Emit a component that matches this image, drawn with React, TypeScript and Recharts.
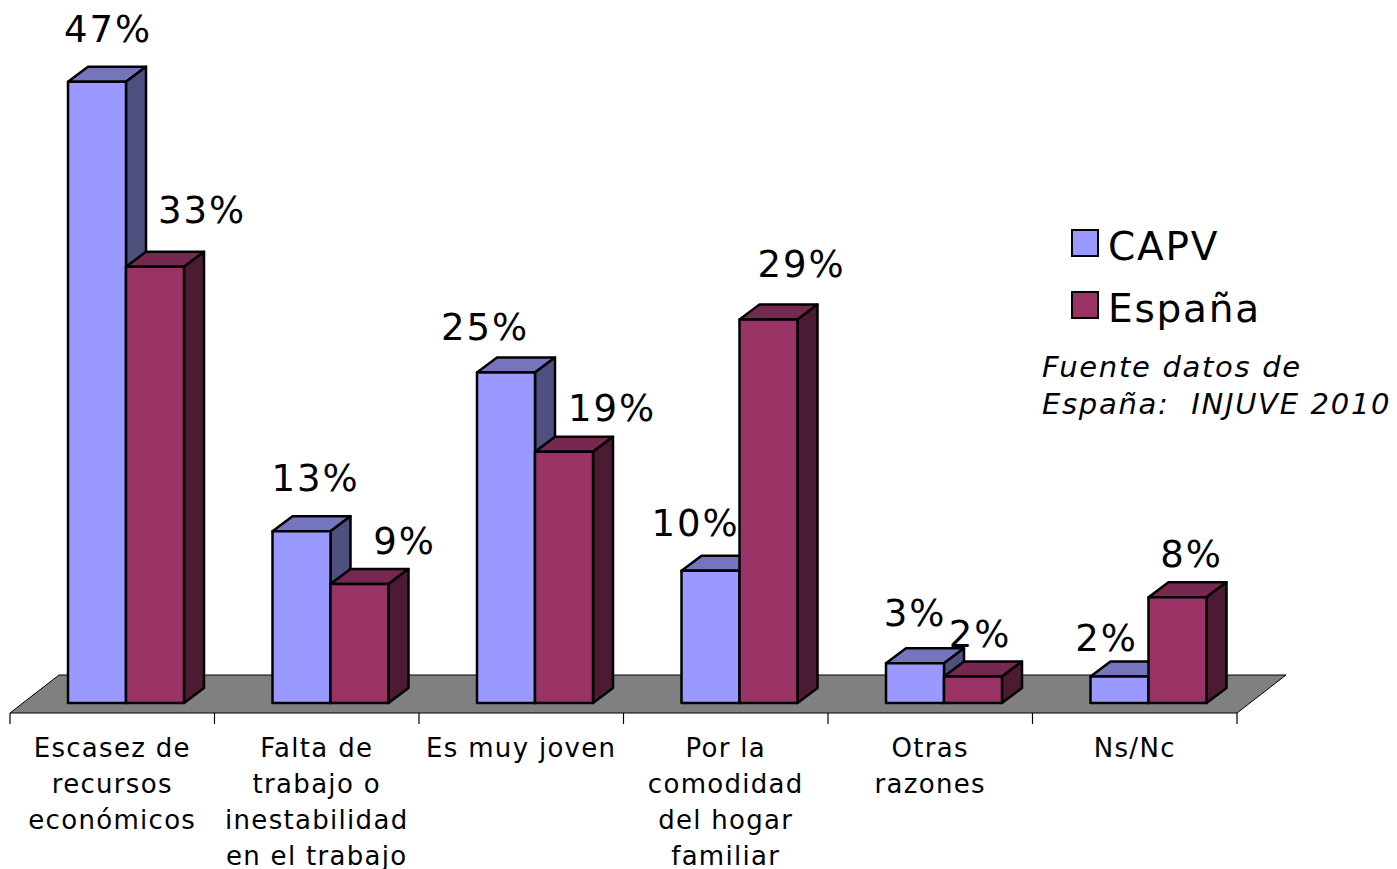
import { Bar, BarChart, LabelList, ReferenceArea, XAxis, YAxis } from 'recharts';

// Reasons for still living with parents — CAPV vs España (%).
const CATEGORIES = [
  'Escasez de\nrecursos\neconómicos',
  'Falta de\ntrabajo o\ninestabilidad\nen el trabajo',
  'Es muy joven',
  'Por la\ncomodidad\ndel hogar\nfamiliar',
  'Otras\nrazones',
  'Ns/Nc',
];
const CAPV = [47, 13, 25, 10, 3, 2];
const ESPANA = [33, 9, 19, 29, 2, 8];

const SERIES_NAMES = ['CAPV', 'España'];
const SOURCE_NOTE = ['Fuente datos de', 'España:  INJUVE 2010'];

// Hand-placed data labels in the original: [dx from front-face centre, px above front top]
const CAPV_LABEL_NUDGE = [[11, 40], [14, 40], [-21, 33], [-15, 35], [0, 37], [-13, 26]];
const ESPANA_LABEL_NUDGE = [[47, 44], [45, 30], [48, 31], [33, 43], [7, 30], [14, 30]];

const FONT = '"DejaVu Sans", Verdana, sans-serif';
const CAPV_COLORS = { front: '#9999ff', top: '#7575be', side: '#4f4f80' };
const ESPANA_COLORS = { front: '#993366', top: '#772850', side: '#4d1a33' };
const FLOOR_COLOR = '#808080';

const W = 1397;
const H = 869;
const BAR_SIZE = 58;
const SHIFT = 14; // bars sit right of band centre in the 3D view
const DEPTH_X = 20;
const DEPTH_Y = 15;

const data = CATEGORIES.map((name, i) => ({ name, capv: CAPV[i], espana: ESPANA[i] }));

function box(colors: { front: string; top: string; side: string }) {
  return (props: any) => {
    const { x, y, width, height } = props;
    const fx = x + SHIFT;
    const r = fx + width;
    const b = y + height;
    return (
      <g stroke="#000" strokeWidth={2.5} strokeLinejoin="round">
        <polygon
          points={`${fx},${y} ${fx + DEPTH_X},${y - DEPTH_Y} ${r + DEPTH_X},${y - DEPTH_Y} ${r},${y}`}
          fill={colors.top}
        />
        <polygon
          points={`${r},${y} ${r + DEPTH_X},${y - DEPTH_Y} ${r + DEPTH_X},${b - DEPTH_Y} ${r},${b}`}
          fill={colors.side}
        />
        <rect x={fx} y={y} width={width} height={height} fill={colors.front} />
      </g>
    );
  };
}

function valueLabel(nudges: number[][]) {
  return (props: any) => {
    const { x, y, width, value, index } = props;
    const [dx, up] = nudges[index] ?? [0, 30];
    return (
      <text
        x={Number(x) + SHIFT + Number(width) / 2 + dx}
        y={Number(y) - up}
        textAnchor="middle"
        fontFamily={FONT}
        fontSize={37}
        letterSpacing={2}
        fill="#000"
      >
        {`${value}%`}
      </text>
    );
  };
}

function Floor(props: any) {
  const { x, y, height, width } = props;
  const base = y + height;
  const front = base + 10;
  const back = base - 28;
  const n = CATEGORIES.length;
  return (
    <g>
      <polygon
        points={`${x},${front} ${x + 49},${back} ${x + width + 49},${back} ${x + width},${front}`}
        fill={FLOOR_COLOR}
        stroke="#000"
        strokeWidth={1}
      />
      {Array.from({ length: n + 1 }, (_, k) => (
        <line
          key={k}
          x1={x + (k * width) / n}
          x2={x + (k * width) / n}
          y1={front}
          y2={front + 11}
          stroke="#000"
          strokeWidth={1.2}
        />
      ))}
    </g>
  );
}

function CategoryTick(props: any) {
  const { x, y, payload } = props;
  const lines = String(payload.value).split('\n');
  return (
    <text x={x} y={y} textAnchor="middle" fontFamily={FONT} fontSize={26} letterSpacing={1.3} fill="#000">
      {lines.map((l, i) => (
        <tspan key={i} x={x} dy={i === 0 ? 54 : 36}>
          {l}
        </tspan>
      ))}
    </text>
  );
}

export default function App() {
  return (
    <div style={{ position: 'absolute', left: 0, top: 0, width: W, height: H, background: '#fff' }}>
      <BarChart
        width={W}
        height={H}
        data={data}
        margin={{ top: 42, right: 160, bottom: 136, left: 10 }}
        barGap={0}
        barSize={BAR_SIZE}
      >
        <XAxis
          dataKey="name"
          height={30}
          axisLine={false}
          tickLine={false}
          tickSize={0}
          tickMargin={0}
          interval={0}
          tick={<CategoryTick />}
        />
        <YAxis hide domain={[0, 50]} />
        <ReferenceArea y1={0} y2={1} ifOverflow="visible" shape={<Floor />} />
        <Bar dataKey="capv" name="CAPV" isAnimationActive={false} shape={box(CAPV_COLORS)}>
          <LabelList dataKey="capv" content={valueLabel(CAPV_LABEL_NUDGE)} />
        </Bar>
        <Bar dataKey="espana" name="España" isAnimationActive={false} shape={box(ESPANA_COLORS)}>
          <LabelList dataKey="espana" content={valueLabel(ESPANA_LABEL_NUDGE)} />
        </Bar>
      </BarChart>

      <svg
        width={W}
        height={H}
        style={{ position: 'absolute', left: 0, top: 0, pointerEvents: 'none' }}
      >
        {[CAPV_COLORS, ESPANA_COLORS].map((c, i) => (
          <g key={i}>
            <rect x={1072} y={230 + i * 62} width={26} height={26} fill={c.front} stroke="#000" strokeWidth={2} />
            <text x={1108} y={260 + i * 62} fontFamily={FONT} fontSize={39} letterSpacing={1.8} fill="#000">
              {SERIES_NAMES[i]}
            </text>
          </g>
        ))}
        {SOURCE_NOTE.map((t, i) => (
          <text
            key={i}
            x={1042}
            y={377 + i * 37}
            fontFamily={FONT}
            fontStyle="italic"
            fontSize={29}
            letterSpacing={1.7}
            fill="#000"
            style={{ whiteSpace: 'pre' }}
          >
            {t}
          </text>
        ))}
      </svg>
    </div>
  );
}
